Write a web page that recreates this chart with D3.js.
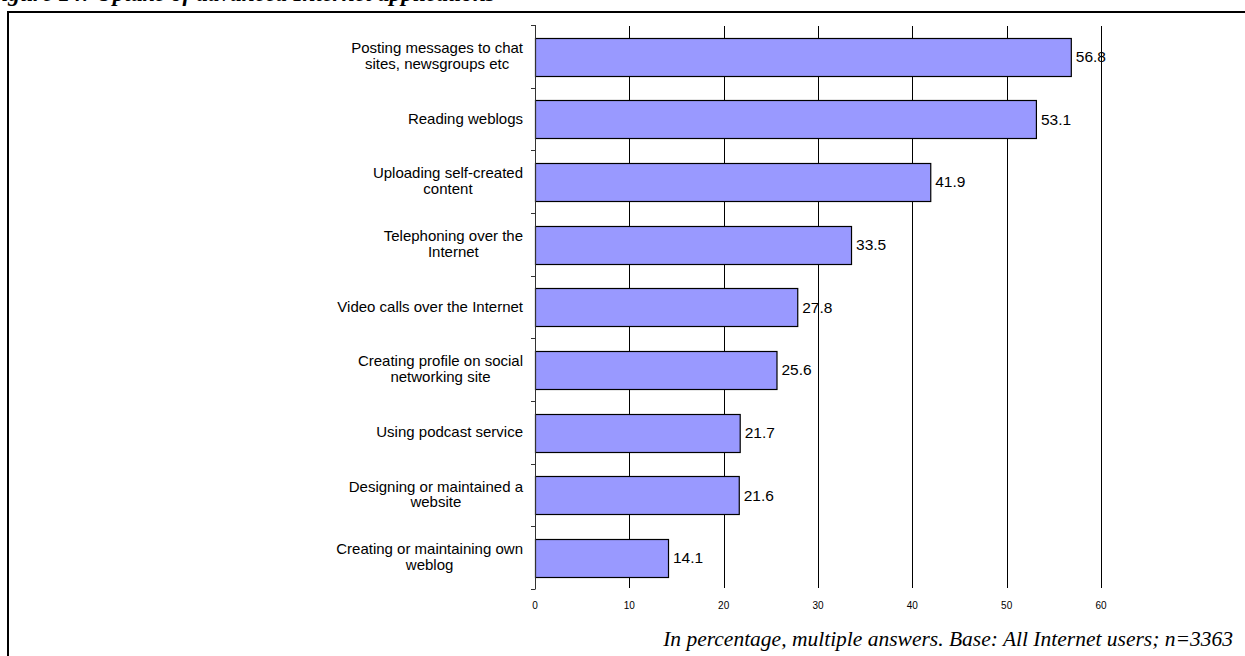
<!DOCTYPE html>
<html>
<head>
<meta charset="utf-8">
<script src="https://cdn.jsdelivr.net/npm/d3@7"></script>
<style>
  html, body { margin: 0; padding: 0; background: #fff; overflow: hidden; }
  svg { display: block; }
</style>
</head>
<body>
<svg id="chart" width="1245" height="656"></svg>
<script>
const categories = [
  "Posting messages to chat\nsites, newsgroups etc",
  "Reading weblogs",
  "Uploading self-created\ncontent",
  "Telephoning over the\nInternet",
  "Video calls over the Internet",
  "Creating profile on social\nnetworking site",
  "Using podcast service",
  "Designing or maintained a\nwebsite",
  "Creating or maintaining own\nweblog"
];
const values = [56.8, 53.1, 41.9, 33.5, 27.8, 25.6, 21.7, 21.6, 14.1];
const xTicks = [0, 10, 20, 30, 40, 50, 60];
const titleText = "Figure 14: Uptake of advanced Internet applications";
const footnoteText = "In percentage, multiple answers. Base: All Internet users; n=3363";

const svg = d3.select("#chart");

// frame
svg.append("rect")
  .attr("x", 8).attr("y", 12).attr("width", 1400).attr("height", 800)
  .attr("fill", "none").attr("stroke", "#000").attr("stroke-width", 2);

// title (clipped at top, as in the reference)
svg.append("text")
  .attr("x", -14).attr("y", 1)
  .attr("font-family", "Liberation Serif, Times New Roman, serif")
  .attr("font-style", "italic").attr("font-weight", "bold")
  .attr("font-size", 23.5)
  .text(titleText);

const x = d3.scaleLinear().domain([0, 60]).range([535, 1101]);
const y = d3.scaleBand().domain(categories).range([25, 589])
  .paddingInner(0.4).paddingOuter(0.2);

// gridlines
svg.append("g").selectAll("line").data(xTicks.filter(d => d > 0)).join("line")
  .attr("x1", d => Math.round(x(d)) + 0.5).attr("x2", d => Math.round(x(d)) + 0.5)
  .attr("y1", 26).attr("y2", 588)
  .attr("stroke", "#000").attr("stroke-width", 1);

// x tick labels
svg.append("g").selectAll("text").data(xTicks).join("text")
  .attr("x", d => x(d)).attr("y", 609)
  .attr("text-anchor", "middle")
  .attr("font-family", "Liberation Sans, Arial, sans-serif")
  .attr("font-size", 10)
  .text(d => d);

// bars
svg.append("g").selectAll("rect").data(values).join("rect")
  .attr("x", x(0) + 0.5)
  .attr("y", (d, i) => Math.round(y(categories[i])) + 0.5)
  .attr("width", d => x(d) - x(0))
  .attr("height", Math.round(y.bandwidth()))
  .attr("fill", "#9999ff")
  .attr("stroke", "#000").attr("stroke-width", 1.2);

// y axis line + boundary ticks
const step = y.step();
const boundaries = categories.map(c => y(c) - step * 0.2).concat([y(categories[categories.length - 1]) + y.bandwidth() + step * 0.2]);
svg.append("line")
  .attr("x1", 535.5).attr("x2", 535.5).attr("y1", 25).attr("y2", 589)
  .attr("stroke", "#333").attr("stroke-width", 1);
svg.append("g").selectAll("line").data(boundaries).join("line")
  .attr("x1", 531).attr("x2", 535.5)
  .attr("y1", d => Math.round(d) + 0.5).attr("y2", d => Math.round(d) + 0.5)
  .attr("stroke", "#333").attr("stroke-width", 1);

// category labels (block right-aligned, lines centred)
const lh = 15.6;
categories.forEach((c, i) => {
  const lines = c.split("\n");
  const cy = y(c) + y.bandwidth() / 2;
  const g = svg.append("g");
  const texts = lines.map((ln, j) => g.append("text")
    .attr("y", cy + 4.5 + (j - (lines.length - 1) / 2) * lh)
    .attr("text-anchor", "middle")
    .attr("font-family", "Liberation Sans, Arial, sans-serif")
    .attr("font-size", 15)
    .attr("fill", "#000")
    .text(ln));
  const maxW = d3.max(texts, t => t.node().getComputedTextLength());
  texts.forEach(t => t.attr("x", 523 - maxW / 2));
});

// value labels
svg.append("g").selectAll("text").data(values).join("text")
  .attr("x", d => x(d) + 5)
  .attr("y", (d, i) => y(categories[i]) + y.bandwidth() / 2 + 5.8)
  .attr("font-family", "Liberation Sans, Arial, sans-serif")
  .attr("font-size", 15.5)
  .text(d => d.toFixed(1));

// footnote
svg.append("text")
  .attr("x", 1233).attr("y", 646)
  .attr("text-anchor", "end")
  .attr("font-family", "Liberation Serif, Times New Roman, serif")
  .attr("font-style", "italic")
  .attr("font-size", 21.5)
  .text(footnoteText);
</script>
</body>
</html>
